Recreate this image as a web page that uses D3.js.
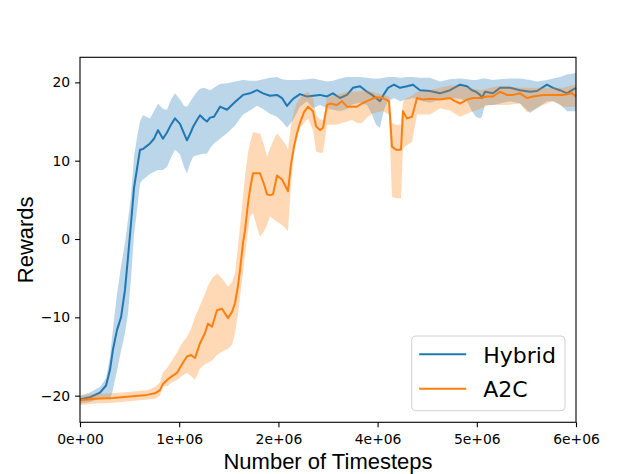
<!DOCTYPE html>
<html>
<head>
<meta charset="utf-8">
<script src="https://cdn.jsdelivr.net/npm/d3@7"></script>
<style>
  body { margin: 0; background: #fff; }
  svg { display: block; }
</style>
</head>
<body>
<div id="chart"></div>
<script>
// Chart size (matches the 640x474 window)
const width = 640;
const height = 474;
const margin = { top: 57.3, right: 64, bottom: 51.7, left: 80 };

// Timesteps are in millions
const hybridSteps = [0, 0.121, 0.242, 0.315, 0.363, 0.399, 0.448, 0.496, 0.544, 0.581, 0.617, 0.653, 0.690, 0.726, 0.762, 0.798, 0.847, 0.895, 0.944, 1.004, 1.052, 1.101, 1.149, 1.210, 1.258, 1.294, 1.331, 1.367, 1.415, 1.452, 1.500, 1.536, 1.573, 1.621, 1.694, 1.778, 1.875, 1.972, 2.056, 2.141, 2.214, 2.298, 2.383, 2.444, 2.504, 2.577, 2.661, 2.746, 2.819, 2.903, 2.988, 3.060, 3.145, 3.230, 3.302, 3.387, 3.472, 3.532, 3.581, 3.629, 3.677, 3.726, 3.798, 3.871, 3.956, 4.028, 4.113, 4.234, 4.355, 4.476, 4.597, 4.681, 4.742, 4.790, 4.839, 4.863, 4.899, 4.996, 5.081, 5.202, 5.323, 5.444, 5.528, 5.649, 5.722, 5.806, 5.891, 5.952, 6.000];
const hybridMean = [-20.5, -20.2, -19.6, -18.7, -16.7, -14.1, -11.6, -10.0, -6.5, -2.3, 2.0, 6.5, 9.0, 11.4, 11.5, 11.8, 12.2, 12.8, 13.9, 12.8, 13.6, 14.6, 15.4, 14.7, 13.5, 12.6, 13.4, 14.3, 15.2, 15.8, 15.3, 15.0, 15.5, 15.6, 16.9, 16.5, 17.5, 18.4, 18.6, 19.0, 18.6, 18.3, 18.4, 18.0, 17.0, 17.9, 18.5, 18.2, 18.3, 18.4, 18.2, 18.6, 18.0, 18.4, 19.3, 19.5, 18.8, 18.4, 18.0, 17.6, 18.5, 19.3, 19.7, 19.3, 19.5, 19.7, 19.0, 18.9, 18.6, 19.0, 19.7, 19.5, 19.0, 18.8, 18.4, 18.0, 18.8, 18.6, 19.3, 19.3, 19.0, 18.8, 18.9, 19.7, 19.3, 19.0, 18.6, 19.0, 19.3];
const hybridLow = [-21.0, -20.8, -20.4, -20.2, -20.6, -19.2, -16.8, -14.3, -12.0, -9.5, -5.0, 0.5, 3.7, 7.1, 7.6, 7.9, 8.3, 8.6, 8.8, 8.8, 9.2, 10.4, 11.4, 10.8, 9.2, 8.4, 9.6, 10.5, 10.7, 10.8, 10.9, 10.9, 11.6, 12.2, 12.8, 13.5, 14.5, 15.9, 16.4, 17.0, 16.6, 16.0, 15.6, 15.0, 14.2, 15.2, 16.9, 17.6, 16.7, 17.1, 16.7, 16.5, 16.3, 16.6, 17.2, 17.4, 17.1, 15.9, 14.6, 14.2, 16.5, 17.6, 18.0, 17.6, 17.8, 18.0, 17.7, 17.4, 17.8, 18.0, 17.9, 17.6, 16.3, 15.6, 15.4, 15.6, 17.1, 17.1, 17.3, 17.6, 17.3, 16.1, 16.7, 17.6, 17.6, 17.2, 16.3, 16.3, 16.3];
const hybridHigh = [-20.0, -19.6, -18.9, -17.8, -15.0, -11.5, -7.0, -3.5, -0.5, 2.5, 5.5, 10.5, 13.0, 15.0, 15.8, 15.6, 15.4, 16.3, 17.3, 16.6, 16.5, 17.8, 18.6, 17.8, 17.0, 16.9, 17.5, 18.1, 18.8, 19.2, 19.3, 19.2, 19.0, 19.3, 19.8, 19.9, 20.1, 20.3, 20.2, 20.2, 20.4, 20.6, 20.7, 20.4, 20.3, 20.3, 20.3, 20.4, 20.5, 20.3, 20.1, 20.2, 20.5, 20.7, 20.7, 20.7, 20.6, 20.5, 20.5, 20.5, 20.6, 20.7, 20.7, 20.6, 20.7, 20.7, 20.6, 20.6, 20.1, 20.4, 20.5, 20.4, 20.3, 20.3, 20.4, 20.5, 20.5, 20.3, 20.4, 20.5, 20.5, 20.3, 20.1, 20.3, 20.5, 20.7, 21.0, 21.1, 21.2];

const a2cSteps = [0, 0.181, 0.399, 0.605, 0.810, 0.907, 0.968, 1.004, 1.052, 1.113, 1.173, 1.234, 1.294, 1.343, 1.391, 1.452, 1.512, 1.548, 1.597, 1.657, 1.718, 1.790, 1.839, 1.875, 1.911, 1.935, 1.972, 1.996, 2.032, 2.056, 2.093, 2.141, 2.177, 2.226, 2.262, 2.298, 2.335, 2.383, 2.444, 2.492, 2.516, 2.552, 2.589, 2.625, 2.661, 2.710, 2.758, 2.819, 2.855, 2.903, 2.940, 2.988, 3.024, 3.109, 3.169, 3.230, 3.290, 3.351, 3.411, 3.472, 3.532, 3.593, 3.665, 3.738, 3.774, 3.823, 3.883, 3.907, 3.956, 4.016, 4.077, 4.149, 4.234, 4.355, 4.476, 4.536, 4.597, 4.681, 4.754, 4.839, 4.923, 4.996, 5.081, 5.165, 5.238, 5.323, 5.407, 5.480, 5.601, 5.722, 5.843, 5.952, 6.000];
const a2cMean = [-20.6, -20.4, -20.3, -20.1, -19.9, -19.7, -19.3, -18.5, -18.0, -17.5, -17.1, -16.0, -15.0, -14.8, -15.2, -13.3, -12.0, -10.8, -11.2, -9.1, -8.9, -10.1, -9.3, -8.2, -6.0, -4.0, -0.5, 1.1, 4.5, 6.3, 8.4, 8.4, 8.4, 7.0, 5.7, 5.6, 5.7, 8.1, 7.6, 6.6, 6.1, 9.5, 11.8, 13.5, 14.8, 16.2, 16.9, 16.3, 14.4, 13.9, 14.2, 17.1, 17.3, 17.1, 17.6, 16.9, 16.9, 16.9, 17.3, 17.6, 17.9, 18.1, 18.0, 17.6, 11.8, 11.4, 11.4, 16.3, 15.4, 15.6, 18.0, 17.8, 17.9, 17.8, 18.0, 17.6, 17.3, 17.8, 18.0, 18.0, 18.2, 18.2, 18.8, 18.4, 18.4, 18.6, 18.0, 18.2, 18.4, 18.4, 18.4, 18.6, 18.2];
const a2cLow = [-21.2, -21.0, -20.9, -20.7, -20.5, -20.4, -20.0, -18.8, -18.8, -18.3, -18.0, -17.5, -17.1, -17.5, -18.0, -16.5, -16.0, -15.8, -15.5, -14.8, -14.4, -14.0, -13.5, -12.0, -9.5, -7.5, -4.3, -2.0, 1.0, 2.9, 3.3, 1.5, 0.3, 1.0, 1.8, 2.9, 2.6, 2.2, 1.8, 1.3, 1.0, 7.0, 11.0, 13.0, 14.2, 14.8, 15.4, 13.9, 11.2, 11.0, 11.0, 14.6, 14.6, 14.6, 14.8, 15.0, 15.2, 14.8, 14.8, 15.5, 16.0, 16.2, 16.3, 15.9, 5.4, 5.2, 5.2, 11.6, 12.0, 12.4, 15.9, 15.9, 15.9, 16.7, 16.4, 16.0, 15.6, 16.0, 16.3, 16.6, 17.0, 17.1, 17.1, 17.1, 17.2, 17.3, 16.2, 16.5, 17.1, 17.6, 16.9, 16.9, 16.9];
const a2cHigh = [-20.0, -19.8, -19.7, -19.5, -19.3, -18.9, -18.3, -17.0, -16.5, -15.5, -14.5, -13.3, -12.5, -11.5, -10.0, -8.5, -7.0, -6.0, -5.0, -4.4, -5.0, -6.1, -5.5, -4.4, -1.0, 1.5, 5.4, 8.0, 11.0, 12.2, 13.7, 13.5, 13.5, 12.0, 10.5, 11.5, 12.5, 13.5, 12.7, 12.0, 11.4, 14.5, 16.3, 17.4, 18.0, 18.5, 18.8, 18.0, 15.8, 15.3, 15.2, 18.0, 18.2, 18.4, 18.6, 18.8, 18.8, 18.8, 18.9, 19.0, 18.8, 18.6, 18.4, 18.2, 14.8, 14.6, 14.6, 17.5, 18.0, 18.3, 18.8, 18.8, 19.0, 19.3, 19.6, 19.6, 19.5, 19.4, 19.2, 19.0, 19.2, 19.4, 19.5, 19.5, 19.4, 19.3, 19.3, 19.3, 19.3, 19.3, 19.3, 19.6, 19.7];

// Tick positions and their (odd) labels, as in the original figure
const xTickValues = [0, 1.2, 2.4, 3.6, 4.8, 6];
const xTickLabels = ["0e+00", "1e+06", "2e+06", "4e+06", "5e+06", "6e+06"];
const yTickValues = [-20, -10, 0, 10, 20];
const yTickLabels = ["\u221220", "\u221210", "0", "10", "20"];

const seriesNames = ["Hybrid", "A2C"];
const seriesColors = ["#1f77b4", "#ff7f0e"];

// Build row objects for each run
const series = [
    { steps: hybridSteps, mean: hybridMean, low: hybridLow, high: hybridHigh },
    { steps: a2cSteps, mean: a2cMean, low: a2cLow, high: a2cHigh }
].map((s, i) => ({
    name: seriesNames[i],
    color: seriesColors[i],
    rows: s.steps.map((t, j) => ({ t: t, mean: s.mean[j], low: s.low[j], high: s.high[j] }))
}));

const svg = d3.select("#chart").append("svg")
    .attr("width", width)
    .attr("height", height);

const plotW = width - margin.left - margin.right;
const plotH = height - margin.top - margin.bottom;

const x = d3.scaleLinear().domain([0, 6]).range([margin.left, margin.left + plotW]);
const y = d3.scaleLinear().domain([-23.4, 23.2]).range([margin.top + plotH, margin.top]);

const area = d3.area()
    .x(d => x(d.t))
    .y0(d => y(d.low))
    .y1(d => y(d.high));

const line = d3.line()
    .x(d => x(d.t))
    .y(d => y(d.mean));

// Bands and mean lines, one series after the other
series.forEach(s => {
    svg.append("path")
        .datum(s.rows)
        .attr("d", area)
        .attr("fill", s.color)
        .attr("fill-opacity", 0.3)
        .attr("stroke", "none");
    svg.append("path")
        .datum(s.rows)
        .attr("d", line)
        .attr("fill", "none")
        .attr("stroke", s.color)
        .attr("stroke-width", 2)
        .attr("stroke-linejoin", "round");
});

// Axes
const xAxis = svg.append("g")
    .attr("transform", `translate(0,${margin.top + plotH})`)
    .call(d3.axisBottom(x)
        .tickValues(xTickValues)
        .tickFormat((d, i) => xTickLabels[i])
        .tickSize(4.9)
        .tickPadding(7)
        .tickSizeOuter(0));

const yAxis = svg.append("g")
    .attr("transform", `translate(${margin.left},0)`)
    .call(d3.axisLeft(y)
        .tickValues(yTickValues)
        .tickFormat((d, i) => yTickLabels[i])
        .tickSize(4.9)
        .tickPadding(5)
        .tickSizeOuter(0));

[xAxis, yAxis].forEach(g => {
    g.select(".domain").remove();
    g.selectAll(".tick line").attr("stroke", "#000").attr("stroke-width", 1.1);
    g.selectAll(".tick text")
        .attr("fill", "#000")
        .style("font-family", "DejaVu Sans")
        .style("font-size", "13.9px");
});

// Frame around the plot
svg.append("rect")
    .attr("x", margin.left)
    .attr("y", margin.top)
    .attr("width", plotW)
    .attr("height", plotH)
    .attr("fill", "none")
    .attr("stroke", "#000")
    .attr("stroke-width", 1.1);

// Axis titles
svg.append("text")
    .attr("x", margin.left + plotW / 2)
    .attr("y", 469)
    .attr("text-anchor", "middle")
    .style("font-family", "Liberation Sans, Arial, sans-serif")
    .style("font-size", "22px")
    .text("Number of Timesteps");

svg.append("text")
    .attr("transform", `translate(33,${margin.top + plotH / 2}) rotate(-90)`)
    .attr("text-anchor", "middle")
    .style("font-family", "Liberation Sans, Arial, sans-serif")
    .style("font-size", "22px")
    .text("Rewards");

// Legend
const legend = svg.append("g").attr("transform", "translate(411.7,336)");

legend.append("rect")
    .attr("width", 153.3)
    .attr("height", 74.7)
    .attr("rx", 4)
    .attr("fill", "#fff")
    .attr("fill-opacity", 0.8)
    .attr("stroke", "#d0d0d0")
    .attr("stroke-width", 1);

series.forEach((s, i) => {
    const ly = 18.3 + i * 34.4;
    legend.append("line")
        .attr("x1", 7.5)
        .attr("x2", 54.5)
        .attr("y1", ly)
        .attr("y2", ly)
        .attr("stroke", s.color)
        .attr("stroke-width", 2);
    legend.append("text")
        .attr("x", 71.5)
        .attr("y", ly + 8.2)
        .style("font-family", "DejaVu Sans")
        .style("font-size", "22px")
        .text(s.name);
});
</script>
</body>
</html>
